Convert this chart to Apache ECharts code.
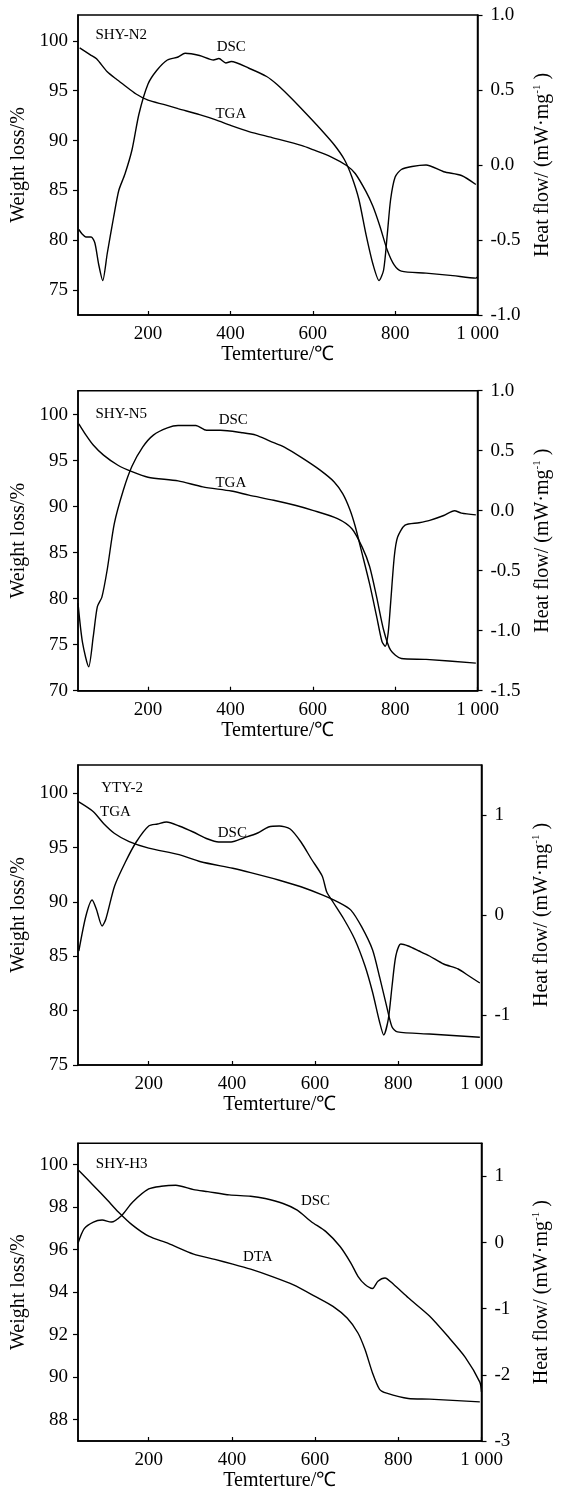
<!DOCTYPE html>
<html>
<head>
<meta charset="utf-8">
<title>TG-DSC</title>
<script src="https://cdn.jsdelivr.net/npm/echarts/dist/echarts.min.js"></script>
<style>
    body{margin:0;background:#fff;}
</style>
</head>
<body>
<div id="container" style="width:561px;height:1492px;"></div>
<script type="text/javascript">
    // ---- data (temperature in ℃) ----
    // SHY-N2
    var n2TgaT = [34,60,75,101,125,144,170,200,240,273,325,363,402,445,501,574,600,643,682,703,729,746,763,781,798,815,875,940,996,1000];
    var n2TgaW = [99.3,98.6,98.2,96.9,96.1,95.5,94.7,94.05,93.6,93.2,92.6,92.1,91.5,90.9,90.3,89.5,89.1,88.4,87.5,86.7,84.9,83.4,81.4,79.0,77.5,76.9,76.7,76.45,76.2,76.3];
    var n2DscT = [32,40,49,62,71,80,90,101,117,129,144,161,178,200,221,247,273,290,325,359,372,389,402,445,488,514,548,583,617,652,677,695,712,729,746,761,772,781,789,800,815,841,875,918,961,996];
    var n2DscH = [-0.43,-0.46,-0.48,-0.48,-0.52,-0.66,-0.77,-0.59,-0.34,-0.17,-0.06,0.10,0.34,0.54,0.63,0.70,0.72,0.745,0.73,0.70,0.71,0.68,0.69,0.645,0.59,0.535,0.445,0.345,0.245,0.135,0.035,-0.08,-0.23,-0.46,-0.66,-0.77,-0.70,-0.46,-0.23,-0.08,-0.03,-0.01,0.0,-0.045,-0.07,-0.13];
    var n2Notes = [['SHY-N2',135,100.6],['DSC',402,99.4],['TGA',401,92.65]];

    // SHY-N5
    var n5TgaT = [32,49,67,92,127,161,200,273,333,402,445,505,557,600,660,695,720,738,755,772,789,815,875,996];
    var n5TgaW = [99.0,97.8,96.7,95.6,94.5,93.8,93.2,92.8,92.15,91.7,91.25,90.7,90.15,89.6,88.7,87.6,85.6,83.5,80.2,76.6,74.4,73.5,73.4,73.0];
    var n5DscT = [30,41,56,67,77,88,101,118,140,161,187,213,247,273,316,342,376,428,462,496,531,574,617,652,673,690,703,720,738,755,768,776,783,789,798,806,824,858,884,918,944,961,996];
    var n5DscH = [-0.77,-1.1,-1.3,-1.05,-0.8,-0.72,-0.49,-0.11,0.17,0.37,0.53,0.63,0.69,0.71,0.71,0.67,0.67,0.65,0.63,0.58,0.53,0.44,0.34,0.24,0.14,0.01,-0.13,-0.36,-0.61,-0.88,-1.09,-1.13,-1.02,-0.77,-0.38,-0.22,-0.12,-0.10,-0.08,-0.04,0.0,-0.02,-0.035];
    var n5Notes = [['SHY-N5',135,100.1],['DSC',407,99.46],['TGA',401,92.57]];

    // YTY-2
    var y2TgaT = [32,67,92,118,153,200,273,325,402,445,514,566,617,660,686,712,738,755,772,785,798,875,996];
    var y2TgaW = [99.2,98.3,97.2,96.3,95.55,94.95,94.35,93.7,93.1,92.7,92.0,91.4,90.65,89.9,89.25,87.7,85.6,83.1,80.4,78.5,78.05,77.85,77.55];
    var y2DscT = [32,49,64,74,88,97,118,144,170,200,221,243,273,307,342,368,398,428,462,488,514,540,566,591,617,628,643,669,695,720,738,755,765,776,785,794,806,824,850,875,909,944,970,996];
    var y2DscH = [-0.36,-0.01,0.15,0.06,-0.11,-0.04,0.29,0.53,0.73,0.89,0.91,0.93,0.89,0.83,0.76,0.73,0.73,0.77,0.82,0.88,0.89,0.86,0.73,0.56,0.39,0.23,0.13,-0.04,-0.24,-0.51,-0.77,-1.07,-1.2,-1.04,-0.71,-0.41,-0.29,-0.31,-0.36,-0.41,-0.49,-0.54,-0.61,-0.68];
    var y2Notes = [['YTY-2',136,100.46],['TGA',120,98.3],['DSC',401,96.38]];

    // SHY-H3
    var h3TgaT = [32,67,101,127,161,200,247,308,359,402,445,497,548,600,643,677,703,720,738,755,772,824,875,996];
    var h3TgaW = [99.72,99.02,98.32,97.77,97.15,96.63,96.29,95.79,95.54,95.32,95.08,94.73,94.34,93.8,93.33,92.78,92.08,91.3,90.2,89.43,89.25,89.0,88.97,88.84];
    var h3DscT = [30,45,67,88,110,135,161,200,230,265,308,342,394,445,480,523,557,591,626,660,686,703,720,738,751,768,789,824,875,918,961,996,1000];
    var h3DscH = [-0.01,0.21,0.31,0.34,0.31,0.41,0.61,0.81,0.85,0.865,0.8,0.77,0.72,0.70,0.665,0.59,0.49,0.315,0.165,-0.06,-0.31,-0.51,-0.635,-0.695,-0.585,-0.535,-0.635,-0.835,-1.11,-1.41,-1.735,-2.11,-2.26];
    var h3Notes = [['SHY-H3',135,100.03],['DSC',601,98.28],['DTA',462,95.67]];

    // axis ticks
    var tempTicks = [200,400,600,800,1000];
    var wTicks75 = [75,80,85,90,95,100];
    var wTicks70 = [70,75,80,85,90,95,100];
    var wTicks88 = [88,90,92,94,96,98,100];
    var hTicksA = [-1,-0.5,0,0.5,1];
    var hTicksB = [-1.5,-1,-0.5,0,0.5,1];
    var hTicksC = [-1,0,1];
    var hTicksD = [-3,-2,-1,0,1];

    var font = '"Liberation Serif","Times New Roman",serif';
    var myChart = echarts.init(document.getElementById('container'));

    function pairs(xs, ys){
        var out = [];
        for(var i=0;i<xs.length;i++){
            out.push([xs[i], ys[i]]);
        }
        return out;
    }

    var grids=[], xAxes=[], yAxes=[], series=[];

    function addPanel(p){
        var g = grids.length;
        grids.push({
            left:78, width:403.5, top:p.top, height:p.height,
            show:true, borderColor:'#000', borderWidth:1.5
        });
        xAxes.push({
            type:'value', gridIndex:g, min:30, max:1000,
            name:'Temterture/℃', nameLocation:'middle', nameGap:30,
            nameTextStyle:{fontFamily:font, fontSize:20, color:'#000'},
            axisLine:{onZero:false, lineStyle:{color:'#000', width:1.5}},
            axisTick:{inside:true, length:4, customValues:tempTicks, lineStyle:{color:'#000', width:1.2}},
            axisLabel:{customValues:tempTicks, margin:10, fontFamily:font, fontSize:19, color:'#000',
                formatter:function(v){ return v===1000 ? '1 000' : String(v); }},
            splitLine:{show:false}
        });
        yAxes.push({
            type:'value', gridIndex:g, position:'left', min:p.wMin, max:p.wMax,
            name:'Weight loss/%', nameLocation:'middle', nameGap:46,
            nameTextStyle:{fontFamily:font, fontSize:20, color:'#000'},
            axisLine:{show:true, onZero:false, lineStyle:{color:'#000', width:1.5}},
            axisTick:{show:true, length:5, customValues:p.wTicks, lineStyle:{color:'#000', width:1.2}},
            axisLabel:{customValues:p.wTicks, margin:10, fontFamily:font, fontSize:19, color:'#000'},
            splitLine:{show:false}
        });
        yAxes.push({
            type:'value', gridIndex:g, position:'right', min:p.hMin, max:p.hMax,
            name:'{a|Heat flow/ (mW·mg}{s|-1}{a| )}', nameLocation:'middle', nameGap:49,
            nameTextStyle:{fontFamily:font, fontSize:20, color:'#000',
                rich:{
                    a:{fontFamily:font, fontSize:20, lineHeight:23, color:'#000'},
                    s:{fontFamily:font, fontSize:11, lineHeight:23, verticalAlign:'top', color:'#000'}
                }},
            axisLine:{show:true, onZero:false, lineStyle:{color:'#000', width:1.5}},
            axisTick:{show:true, length:5, customValues:p.hTicks, lineStyle:{color:'#000', width:1.2}},
            axisLabel:{customValues:p.hTicks, margin:13, fontFamily:font, fontSize:19, color:'#000',
                formatter:function(v){ return p.hDigits ? v.toFixed(p.hDigits) : String(v); }},
            splitLine:{show:false}
        });
        var notes = [];
        for(var k=0;k<p.notes.length;k++){
            notes.push({name:p.notes[k][0], coord:[p.notes[k][1], p.notes[k][2]]});
        }
        series.push({
            type:'line', xAxisIndex:g, yAxisIndex:2*g, data:pairs(p.tgaT, p.tgaW),
            showSymbol:false, smooth:0.25, lineStyle:{color:'#000', width:1.4},
            markPoint:{
                symbol:'circle', symbolSize:0, data:notes,
                label:{show:true, position:'inside', formatter:'{b}', fontFamily:font, fontSize:15, color:'#000'}
            }
        });
        series.push({
            type:'line', xAxisIndex:g, yAxisIndex:2*g+1, data:pairs(p.dscT, p.dscH),
            showSymbol:false, smooth:0.25, lineStyle:{color:'#000', width:1.4}
        });
    }

    addPanel({top:15, height:300, wMin:72.5, wMax:102.6, wTicks:wTicks75,
        hMin:-1, hMax:1, hTicks:hTicksA, hDigits:1,
        tgaT:n2TgaT, tgaW:n2TgaW, dscT:n2DscT, dscH:n2DscH, notes:n2Notes});
    addPanel({top:390.7, height:300, wMin:70, wMax:102.6, wTicks:wTicks70,
        hMin:-1.5, hMax:1, hTicks:hTicksB, hDigits:1,
        tgaT:n5TgaT, tgaW:n5TgaW, dscT:n5DscT, dscH:n5DscH, notes:n5Notes});
    addPanel({top:765, height:300, wMin:75, wMax:102.6, wTicks:wTicks75,
        hMin:-1.5, hMax:1.5, hTicks:hTicksC, hDigits:0,
        tgaT:y2TgaT, tgaW:y2TgaW, dscT:y2DscT, dscH:y2DscH, notes:y2Notes});
    addPanel({top:1143.3, height:299, wMin:87, wMax:101, wTicks:wTicks88,
        hMin:-3, hMax:1.5, hTicks:hTicksD, hDigits:0,
        tgaT:h3TgaT, tgaW:h3TgaW, dscT:h3DscT, dscH:h3DscH, notes:h3Notes});

    var option = {
        animation:false,
        backgroundColor:'#fff',
        grid:grids,
        xAxis:xAxes,
        yAxis:yAxes,
        series:series
    };
    myChart.setOption(option);
</script>
</body>
</html>
